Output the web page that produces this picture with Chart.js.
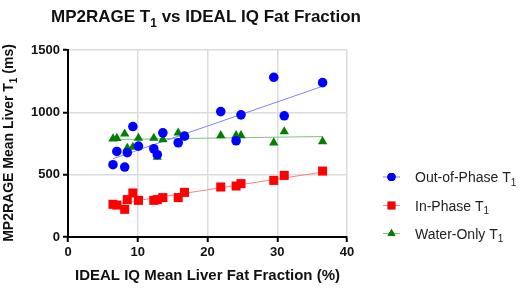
<!DOCTYPE html>
<html>
<head>
<meta charset="utf-8">
<script src="https://cdn.jsdelivr.net/npm/chart.js@4"></script>
<style>
  html, body { margin: 0; padding: 0; background: #fff; }
  #wrap { width: 528px; height: 290px; }
</style>
</head>
<body>
<div id="wrap"><canvas id="grafico" width="528" height="290"></canvas></div>
<script>
// Fat fraction (%) per subject
const grasa = [6.45, 7.0, 8.13, 8.5, 9.3, 10.1, 12.3, 12.8, 13.6, 15.8, 16.7, 21.9, 24.1, 24.8, 29.5, 31.0, 36.5];
// T1 values (ms)
const t1FueraFase = [580, 686, 561, 676, 886, 729, 708, 660, 836, 756, 809, 1006, 772, 980, 1281, 972, 1238];
const t1EnFase = [262, 256, 222, 300, 353, 294, 294, 300, 316, 316, 358, 401, 409, 428, 454, 494, 529];
const t1Agua = [788, 792, 828, 713, 721, 793, 793, 641, 782, 836, 805, 814, 814, 814, 756, 846, 766];
// Trend line endpoints
const lineaX = [6.45, 36.5];
const lineaFueraFase = [628, 1209];
const lineaEnFase = [262, 521];
const lineaAgua = [782, 806];

const ticksX = [0, 10, 20, 30, 40];
const ticksY = [0, 500, 1000, 1500];

const series = [
  { nombre: 'Out-of-Phase T', data: t1FueraFase, linea: lineaFueraFase, color: '#0000ff', claro: '#8080ff', forma: 'circle', radio: 4.8 },
  { nombre: 'In-Phase T', data: t1EnFase, linea: lineaEnFase, color: '#ff0000', claro: '#ff8080', forma: 'rect', radio: 6.4 },
  { nombre: 'Water-Only T', data: t1Agua, linea: lineaAgua, color: '#008000', claro: '#80c080', forma: 'triangle', radio: 5.4 }
];

const datasets = [];
series.forEach((s, i) => {
  datasets.push({
    type: 'scatter',
    label: s.nombre + '1',
    data: grasa.map((x, k) => ({ x: x, y: s.data[k] })),
    backgroundColor: s.color,
    borderColor: s.color,
    borderWidth: 0,
    pointStyle: s.forma,
    pointRadius: s.radio,
    order: 1 + i
  });
  datasets.push({
    type: 'line',
    label: s.nombre + '1 fit',
    data: lineaX.map((x, k) => ({ x: x, y: s.linea[k] })),
    borderColor: s.claro,
    borderWidth: 1,
    pointRadius: 0,
    fill: false,
    order: 10 + i
  });
});

const fuente = '"Liberation Sans", Arial, sans-serif';

// texto con subindice: partes = [[texto, esSub], ...]
function textoSub(ctx, partes, x, y, tam, peso, alinear) {
  const fMain = peso + ' ' + tam + 'px ' + fuente;
  const fSub = peso + ' ' + Math.round(tam * 0.72) + 'px ' + fuente;
  let total = 0;
  partes.forEach(p => { ctx.font = p[1] ? fSub : fMain; total += ctx.measureText(p[0]).width; });
  let cx = alinear === 'center' ? x - total / 2 : x;
  ctx.textAlign = 'left';
  ctx.textBaseline = 'alphabetic';
  partes.forEach(p => {
    ctx.font = p[1] ? fSub : fMain;
    ctx.fillText(p[0], cx, y + (p[1] ? tam * 0.28 : 0));
    cx += ctx.measureText(p[0]).width;
  });
}

const extras = {
  id: 'extras',
  afterDraw(chart) {
    const ctx = chart.ctx;
    ctx.save();
    ctx.fillStyle = '#111';
    // titulo
    textoSub(ctx, [['MP2RAGE T', false], ['1', true], [' vs IDEAL IQ Fat Fraction', false]], 206, 22, 17, 'bold', 'center');
    // titulo eje y
    ctx.save();
    ctx.translate(13, 143);
    ctx.rotate(-Math.PI / 2);
    textoSub(ctx, [['MP2RAGE Mean Liver T', false], ['1', true], [' (ms)', false]], 0, 0, 14, 'bold', 'center');
    ctx.restore();
    // leyenda
    const filas = [177, 205.5, 233.5];
    series.forEach((s, i) => {
      const y = filas[i];
      ctx.strokeStyle = s.claro;
      ctx.lineWidth = 1;
      ctx.beginPath();
      ctx.moveTo(383, y);
      ctx.lineTo(400, y);
      ctx.stroke();
      Chart.helpers.drawPoint(ctx, { pointStyle: s.forma, radius: s.radio * 0.85, rotation: 0, borderWidth: 0 }, 391.5, y);
      ctx.fillStyle = s.color;
      ctx.fill();
      ctx.fillStyle = '#222';
      textoSub(ctx, [[s.nombre, false], ['1', true]], 415, y + 5, 14, 'normal', 'left');
    });
    ctx.restore();
  }
};

new Chart(document.getElementById('grafico'), {
  data: { datasets },
  options: {
    responsive: false,
    animation: false,
    layout: { padding: { left: 0, top: 50, right: 181, bottom: 0 } },
    plugins: { legend: { display: false }, tooltip: { enabled: false } },
    scales: {
      x: {
        type: 'linear',
        min: 0, max: 40,
        afterBuildTicks: (sc) => { sc.ticks = ticksX.map(v => ({ value: v })); },
        afterFit: (sc) => { sc.height = 53; },
        border: { color: '#000', width: 2 },
        grid: { color: '#dcdcdc', lineWidth: 1.5, tickColor: '#000', tickLength: 5, tickWidth: 2 },
        ticks: { color: '#111', font: { family: fuente, size: 13, weight: 'bold' }, padding: 3, callback: (v) => String(v) },
        title: { display: true, text: 'IDEAL IQ Mean Liver Fat Fraction (%)', color: '#111', font: { family: fuente, size: 15, weight: 'bold' }, padding: { top: 2, bottom: 5 } }
      },
      y: {
        type: 'linear',
        min: 0, max: 1500,
        afterBuildTicks: (sc) => { sc.ticks = ticksY.map(v => ({ value: v })); },
        afterFit: (sc) => { sc.width = 68; },
        border: { color: '#000', width: 2 },
        grid: { color: '#dcdcdc', lineWidth: 1.5, tickColor: '#000', tickLength: 5, tickWidth: 2 },
        ticks: { color: '#111', font: { family: fuente, size: 13, weight: 'bold' }, padding: 3, callback: (v) => String(v) }
      }
    }
  },
  plugins: [extras]
});
</script>
</body>
</html>
